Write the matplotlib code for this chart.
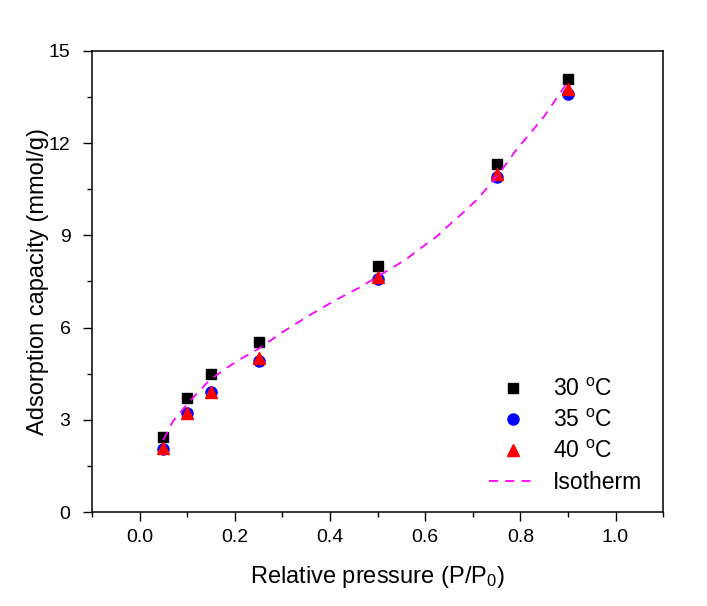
import matplotlib
matplotlib.use("Agg")
import matplotlib.pyplot as plt
from matplotlib.ticker import MultipleLocator

plt.rcParams["font.family"] = ["Liberation Sans", "DejaVu Sans"]
plt.rcParams["mathtext.fontset"] = "custom"
plt.rcParams["mathtext.rm"] = "Liberation Sans"
plt.rcParams["mathtext.it"] = "Liberation Sans:italic"

# relative pressure of the measured points
pressure = [0.05, 0.10, 0.15, 0.25, 0.50, 0.75, 0.90]

# adsorption capacity (mmol/g) at each temperature
cap_30 = [2.45, 3.72, 4.48, 5.54, 8.00, 11.33, 14.07]
cap_35 = [2.05, 3.22, 3.91, 4.93, 7.59, 10.90, 13.60]
cap_40 = [2.10, 3.22, 3.89, 5.02, 7.66, 11.00, 13.75]

# isotherm fit
iso_x = [0.05, 0.07, 0.095, 0.12, 0.148, 0.183, 0.215, 0.253, 0.30, 0.358,
         0.41, 0.463, 0.50, 0.558, 0.593, 0.624, 0.652, 0.680, 0.708, 0.733,
         0.762, 0.79, 0.85, 0.90]
iso_y = [2.34, 2.95, 3.42, 3.85, 4.30, 4.69, 5.00, 5.34, 5.85, 6.41,
         6.88, 7.31, 7.66, 8.20, 8.61, 8.96, 9.36, 9.74, 10.15, 10.59,
         11.15, 11.75, 12.87, 14.00]

fig = plt.figure(figsize=(7.07, 6.06), dpi=100)
ax = fig.add_axes([0.130, 0.155, 0.808, 0.761])

ax.plot(pressure, cap_30, ls="none", marker="s", ms=7.5, color="black",
        label=r"30 $^{\rm o}$C")
ax.plot(pressure, cap_35, ls="none", marker="o", ms=8, color="#0000FF",
        label=r"35 $^{\rm o}$C")
ax.plot(pressure, cap_40, ls="none", marker="^", ms=9, color="#FF0000",
        label=r"40 $^{\rm o}$C")
ax.plot(iso_x, iso_y, color="#FF00FF", ls=(0, (5, 4)), lw=1.3, label="Isotherm")

ax.set_xlim(-0.1, 1.1)
ax.set_ylim(0, 15)
ax.xaxis.set_major_locator(MultipleLocator(0.2))
ax.xaxis.set_minor_locator(MultipleLocator(0.1))
ax.yaxis.set_major_locator(MultipleLocator(3))
ax.yaxis.set_minor_locator(MultipleLocator(1.5))
ax.set_xticks([0.0, 0.2, 0.4, 0.6, 0.8, 1.0])
ax.set_xticklabels(["0.0", "0.2", "0.4", "0.6", "0.8", "1.0"])

ax.tick_params(which="major", direction="out", length=6.5, width=1,
               labelsize=14, top=False, right=False)
ax.tick_params(which="minor", direction="out", length=3.5, width=1,
               top=False, right=False)
ax.tick_params(axis="y", which="major", pad=9)
ax.tick_params(axis="x", which="major", pad=6)
for s in ax.spines.values():
    s.set_linewidth(1.1)

ax.set_xlabel(r"Relative pressure (P/P$_{\rm 0}$)", fontsize=17, labelpad=13)
ax.set_ylabel("Adsorption capacity (mmol/g)", fontsize=17, labelpad=0)

ax.legend(loc="lower left", bbox_to_anchor=(0.667, 0.005), frameon=False,
          fontsize=16.5, handlelength=2.1, handletextpad=0.7,
          labelspacing=0.35, borderpad=0.2)

fig.savefig("out.png", dpi=100)
